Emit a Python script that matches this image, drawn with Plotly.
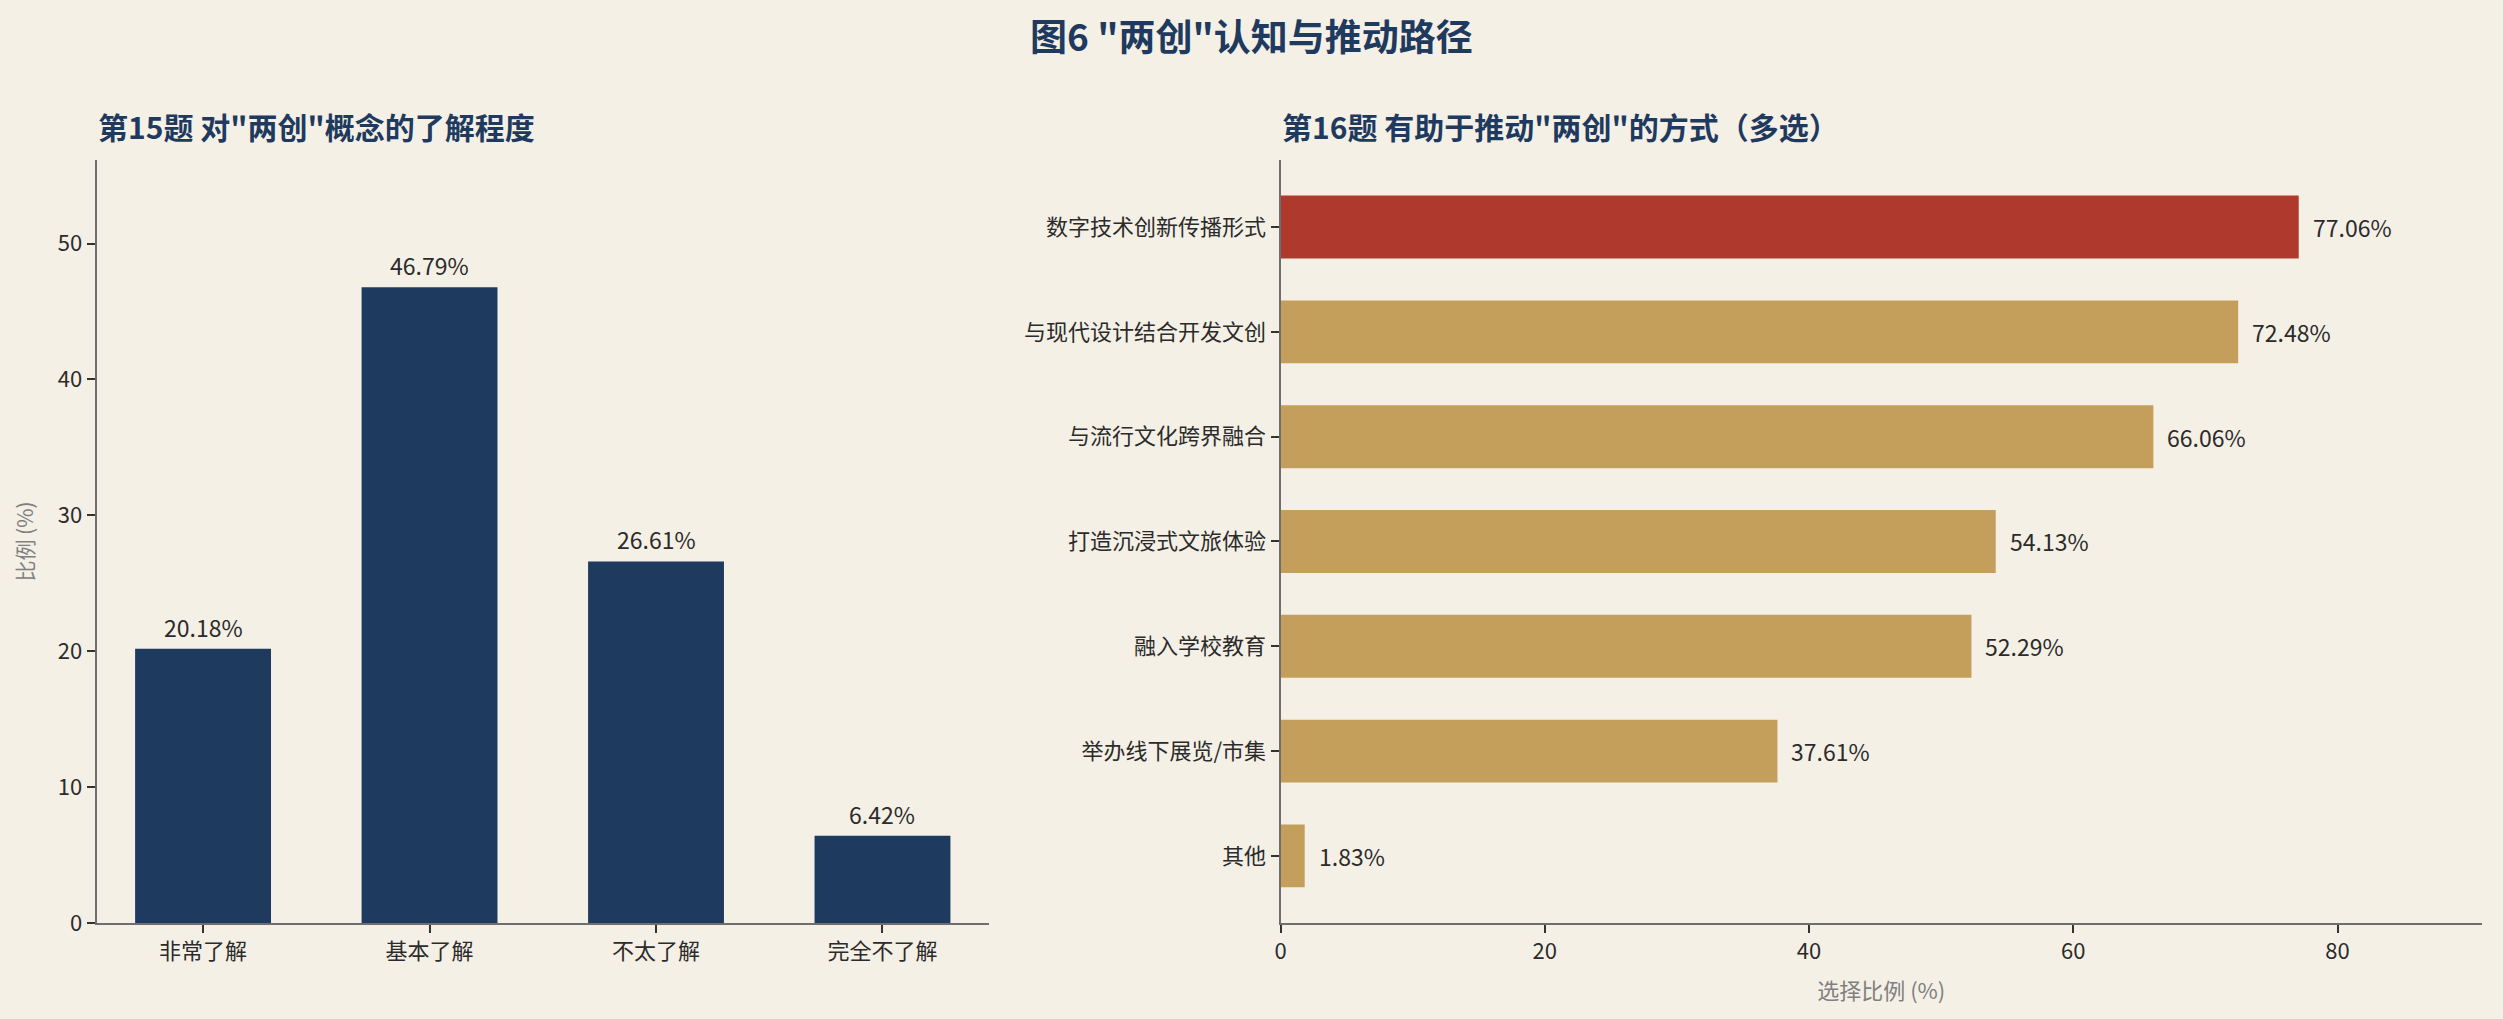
import plotly.graph_objects as go

# data
q15_labels = ['非常了解', '基本了解', '不太了解', '完全不了解']
q15_values = [20.18, 46.79, 26.61, 6.42]

q16_labels = ['数字技术创新传播形式', '与现代设计结合开发文创', '与流行文化跨界融合',
              '打造沉浸式文旅体验', '融入学校教育', '举办线下展览/市集', '其他']
q16_values = [77.06, 72.48, 66.06, 54.13, 52.29, 37.61, 1.83]

NAVY = '#1F3A5F'
RED = '#B0392E'
GOLD = '#C49F5B'
BG = '#F5F0E6'
FONT = 'Noto Sans CJK SC'

q16_colours = [RED] + [GOLD] * (len(q16_values) - 1)

fig = go.Figure()

fig.add_trace(go.Bar(x=q15_labels, y=q15_values, width=0.6,
                     marker=dict(color=NAVY, line=dict(width=0)),
                     xaxis='x', yaxis='y', showlegend=False))

fig.add_trace(go.Bar(x=q16_values, y=q16_labels, orientation='h', width=0.6,
                     marker=dict(color=q16_colours, line=dict(width=0)),
                     xaxis='x2', yaxis='y2', showlegend=False))

annotations = []
for lab, val in zip(q15_labels, q15_values):
    annotations.append(dict(x=lab, y=val, xref='x', yref='y', text=f'{val:.2f}%',
                            showarrow=False, yanchor='bottom', yshift=3,
                            font=dict(family=FONT, size=23, color='#2b2b2b')))
for lab, val in zip(q16_labels, q16_values):
    annotations.append(dict(x=val, y=lab, xref='x2', yref='y2', text=f'{val:.2f}%',
                            showarrow=False, xanchor='left', xshift=12,
                            font=dict(family=FONT, size=23, color='#2b2b2b')))

# titles
annotations.append(dict(x=0.5, y=0.966, xref='paper', yref='paper',
                        text='<b>图6 "两创"认知与推动路径</b>', showarrow=False,
                        xanchor='center', yanchor='middle',
                        font=dict(family=FONT, size=37, color=NAVY)))
annotations.append(dict(x=0.0384, y=0.876, xref='paper', yref='paper',
                        text='<b>第15题 对"两创"概念的了解程度</b>', showarrow=False,
                        xanchor='left', yanchor='middle',
                        font=dict(family=FONT, size=30, color=NAVY)))
annotations.append(dict(x=0.5114, y=0.876, xref='paper', yref='paper',
                        text='<b>第16题 有助于推动"两创"的方式（多选）</b>', showarrow=False,
                        xanchor='left', yanchor='middle',
                        font=dict(family=FONT, size=30, color=NAVY)))

axis_common = dict(showline=True, linecolor='#6e6e6e', linewidth=2, showgrid=False,
                   zeroline=False, ticks='outside', ticklen=8, tickwidth=1.5,
                   tickcolor='#333333', automargin=False,
                   tickfont=dict(family=FONT, size=22, color='#2b2b2b'))

fig.update_layout(
    width=2503, height=1019,
    paper_bgcolor=BG, plot_bgcolor=BG,
    margin=dict(l=0, r=0, t=0, b=0),
    annotations=annotations,
    xaxis=dict(domain=[0.0386, 0.3951], range=[-0.47, 3.47], anchor='y', **axis_common),
    yaxis=dict(domain=[0.0942, 0.843], range=[0, 56.15], dtick=10, anchor='x',
               title=dict(text='比例 (%)', standoff=18,
                          font=dict(family=FONT, size=21, color='#808080')),
               **axis_common),
    xaxis2=dict(domain=[0.5116, 0.9916], range=[0, 90.93], dtick=20, anchor='y2',
                title=dict(text='选择比例 (%)', standoff=19,
                           font=dict(family=FONT, size=22, color='#808080')),
                **axis_common),
    yaxis2=dict(domain=[0.0942, 0.843], range=[6.64, -0.64], anchor='x2', **axis_common),
)

# drop the page's default body margin so the figure sits at the window origin
fig.write_html('out.html', config={'displayModeBar': False},
               post_script="document.body.style.margin='0';document.body.style.overflow='hidden';")
